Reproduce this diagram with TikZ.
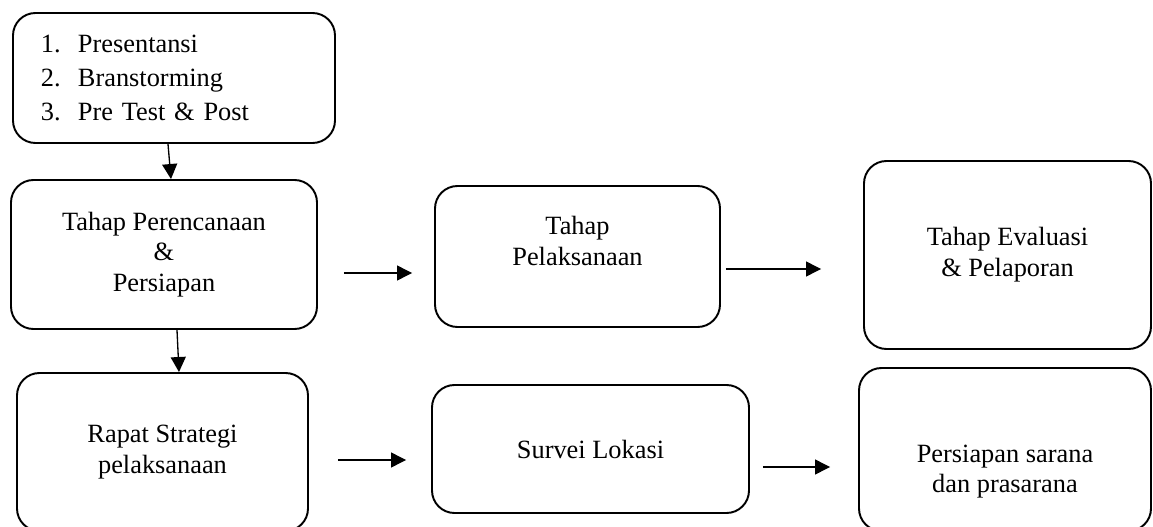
\documentclass[tikz,border=0pt]{standalone}
\usepackage{fontspec}
\setmainfont{Liberation Serif}
\usepackage{tikz}
\usetikzlibrary{arrows.meta}
\tikzstyle{stage} = [draw, line width=1.1pt, rounded corners=0.45cm, align=center, font=\fontsize{15}{17.5}\selectfont]
\tikzstyle{arrow} = [draw, line width=0.75pt, color=black, -{Triangle[length=0.3cm,width=0.3cm]}]
\newcommand{\Item}[2]{\makebox[0.74cm][l]{#1}#2}

\begin{document}
\begin{tikzpicture}[auto]

\useasboundingbox (0,0) rectangle (23.06,-10.54);
\clip (0,0) rectangle (23.06,-10.54);


%%% %%%
% Top row
%%% %%%


\node[stage,minimum width=6.44cm,minimum height=2.6cm,text width=5.32cm,align=left,font=\fontsize{15}{19.4}\selectfont] at (3.48,-1.56) (metode)
{\Item{1.}{Presentansi}\\\Item{2.}{Branstorming}\\\Item{3.}{Pre Test \& Post}};

\node[stage,minimum width=6.12cm,minimum height=2.98cm] at (3.28,-5.09) (rencana) {Tahap Perencanaan\\\&\\Persiapan};

\node[stage,minimum width=5.70cm,minimum height=2.82cm] at (11.55,-5.13) (laksana) {Tahap\\Pelaksanaan\\~};

\node[stage,minimum width=5.74cm,minimum height=3.76cm] at (20.15,-5.10) (evaluasi) {Tahap Evaluasi\\\& Pelaporan};


%%% %%%
% Bottom row
%%% %%%


\node[stage,minimum width=5.82cm,minimum height=3.16cm] at (3.25,-9.04) (rapat) {Rapat Strategi\\pelaksanaan};

\node[stage,minimum width=6.34cm,minimum height=2.56cm] at (11.81,-8.98) (survei) {Survei Lokasi};

\node[stage,minimum width=5.84cm,minimum height=3.26cm] at (20.10,-8.99) (sarana) {~\\[0.62cm]Persiapan sarana\\dan prasarana};


%%%
% Arrows
%%%


\draw [arrow] ([xshift=-0.12cm]metode.south) to ([xshift=0.14cm]rencana.north);
\draw [arrow] ([xshift=0.26cm]rencana.south) to ([xshift=0.33cm]rapat.north);

\draw [arrow,shorten <=0.52cm,shorten >=0.44cm] ([yshift=-0.37cm]rencana.east) to ([yshift=-0.37cm]rencana.east -| laksana.west);
\draw [arrow,shorten <=0.10cm,shorten >=0.84cm] ([yshift=-0.25cm]laksana.east) to ([yshift=-0.25cm]laksana.east -| evaluasi.west);

\draw [arrow,shorten <=0.58cm,shorten >=0.50cm] ([yshift=-0.16cm]rapat.east) to ([yshift=-0.16cm]rapat.east -| survei.west);
\draw [arrow,shorten <=0.26cm,shorten >=0.56cm] ([yshift=-0.36cm]survei.east) to ([yshift=-0.36cm]survei.east -| sarana.west);


\end{tikzpicture}
\end{document}
